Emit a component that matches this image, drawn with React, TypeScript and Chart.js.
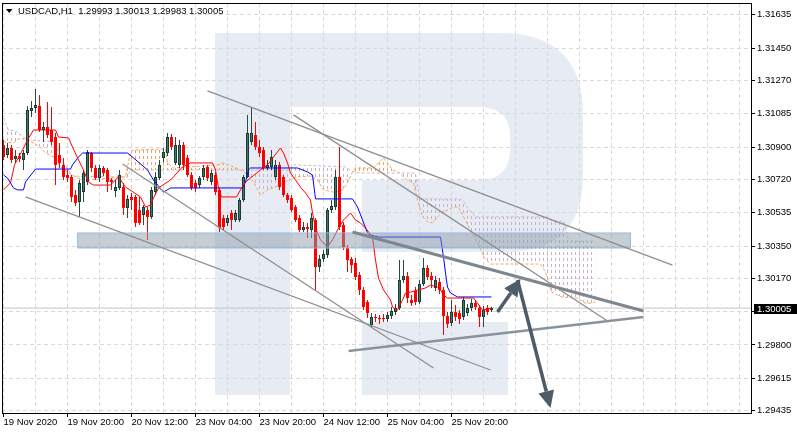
import React, { useEffect, useRef } from 'react';
import { Chart, registerables } from 'chart.js';

Chart.register(...registerables);

const FONT_FAMILY = '"Liberation Sans", Arial, sans-serif';
const SYMBOL = 'USDCAD,H1';

// time axis: one bar per hour, a label every 16 bars, a grid line every 8 bars
const timeLabels = ['19 Nov 2020', '19 Nov 20:00', '20 Nov 12:00', '23 Nov 04:00', '23 Nov 20:00', '24 Nov 12:00', '25 Nov 04:00', '25 Nov 20:00'];
const timeLabelStep = 16;
const gridStep = 8;
const gridLast = 184;

const priceTicks = [1.31635, 1.3145, 1.3127, 1.31085, 1.309, 1.3072, 1.30535, 1.3035, 1.3017, 1.29985, 1.298, 1.29615, 1.29435];

const X_MIN = -0.375;
const X_MAX = 186.875;
const Y_MIN = 1.29422;
const Y_MAX = 1.31701;

const opens = [
  1.30912, 1.30856, 1.30895, 1.30834, 1.30851, 1.30828, 1.30867, 1.31101, 1.31118, 1.31129,
  1.30995, 1.31012, 1.30995, 1.30956, 1.30856, 1.30801, 1.30745, 1.30734, 1.30634, 1.30595,
  1.30650, 1.30706, 1.30867, 1.30784, 1.30728, 1.30784, 1.30773, 1.30717, 1.30656, 1.30673,
  1.30678, 1.30562, 1.30623, 1.30623, 1.30550, 1.30523, 1.30550, 1.30512, 1.30650, 1.30728,
  1.30840, 1.30867, 1.30956, 1.30812, 1.30801, 1.30912, 1.30840, 1.30745, 1.30701, 1.30689,
  1.30734, 1.30790, 1.30706, 1.30745, 1.30662, 1.30506, 1.30478, 1.30534, 1.30495, 1.30495,
  1.30606, 1.30734, 1.30929, 1.30967, 1.30901, 1.30884, 1.30784, 1.30790, 1.30734, 1.30801,
  1.30734, 1.30634, 1.30617, 1.30567, 1.30506, 1.30439, 1.30456, 1.30439, 1.30495, 1.30233,
  1.30278, 1.30300, 1.30550, 1.30567, 1.30734, 1.30467, 1.30339, 1.30278, 1.30256, 1.30189,
  1.30106, 1.30039, 1.29911, 1.29956, 1.29950, 1.29950, 1.29944, 1.29961, 1.29983, 1.30006,
  1.30161, 1.30183, 1.30050, 1.30100, 1.30039, 1.30139, 1.30228, 1.30183, 1.30117, 1.30150,
  1.30106, 1.29961, 1.29922, 1.29983, 1.29978, 1.29956, 1.29978, 1.30006, 1.30033, 1.30006,
  1.29956, 1.30006, 1.29993,
];
const highs = [
  1.30940, 1.30923, 1.30912, 1.30884, 1.30867, 1.30884, 1.31129, 1.31156, 1.31223, 1.31190,
  1.31040, 1.31151, 1.31123, 1.30979, 1.30923, 1.30840, 1.30773, 1.30745, 1.30662, 1.30717,
  1.30773, 1.30884, 1.30873, 1.30801, 1.30801, 1.30795, 1.30784, 1.30728, 1.30717, 1.30773,
  1.30701, 1.30634, 1.30645, 1.30634, 1.30623, 1.30578, 1.30567, 1.30678, 1.30762, 1.30828,
  1.30895, 1.30979, 1.30973, 1.30956, 1.30940, 1.30929, 1.30856, 1.30762, 1.30717, 1.30739,
  1.30801, 1.30801, 1.30773, 1.30762, 1.30673, 1.30523, 1.30523, 1.30550, 1.30550, 1.30617,
  1.30745, 1.31079, 1.31123, 1.31040, 1.30940, 1.30901, 1.30828, 1.30884, 1.30828, 1.30817,
  1.30745, 1.30645, 1.30634, 1.30578, 1.30523, 1.30484, 1.30478, 1.30534, 1.30506, 1.30300,
  1.30328, 1.30562, 1.30606, 1.30773, 1.30901, 1.30484, 1.30356, 1.30289, 1.30283, 1.30206,
  1.30122, 1.30050, 1.29978, 1.29972, 1.29967, 1.29972, 1.29983, 1.30011, 1.30028, 1.30272,
  1.30272, 1.30206, 1.30078, 1.30122, 1.30161, 1.30283, 1.30244, 1.30206, 1.30183, 1.30172,
  1.30122, 1.29983, 1.30050, 1.30022, 1.29994, 1.30067, 1.30028, 1.30056, 1.30050, 1.30022,
  1.30017, 1.30022, 1.30013,
];
const lows = [
  1.30828, 1.30840, 1.30812, 1.30812, 1.30817, 1.30773, 1.30856, 1.31067, 1.31090, 1.30984,
  1.30929, 1.30951, 1.30912, 1.30689, 1.30784, 1.30717, 1.30706, 1.30595, 1.30573, 1.30512,
  1.30595, 1.30689, 1.30762, 1.30717, 1.30706, 1.30739, 1.30650, 1.30662, 1.30623, 1.30662,
  1.30523, 1.30506, 1.30550, 1.30456, 1.30467, 1.30467, 1.30384, 1.30500, 1.30634, 1.30717,
  1.30817, 1.30851, 1.30884, 1.30801, 1.30784, 1.30773, 1.30734, 1.30662, 1.30650, 1.30673,
  1.30717, 1.30712, 1.30689, 1.30634, 1.30428, 1.30439, 1.30462, 1.30439, 1.30484, 1.30484,
  1.30595, 1.30728, 1.30912, 1.30884, 1.30845, 1.30773, 1.30773, 1.30773, 1.30717, 1.30662,
  1.30623, 1.30589, 1.30539, 1.30484, 1.30428, 1.30428, 1.30395, 1.30395, 1.30106, 1.30206,
  1.30261, 1.30283, 1.30534, 1.30550, 1.30439, 1.30328, 1.30206, 1.30200, 1.30161, 1.30078,
  1.29994, 1.29950, 1.29900, 1.29928, 1.29917, 1.29928, 1.29928, 1.29944, 1.29967, 1.29994,
  1.30145, 1.30033, 1.30017, 1.30022, 1.30028, 1.30128, 1.30161, 1.30117, 1.30100, 1.30083,
  1.29855, 1.29894, 1.29906, 1.29933, 1.29917, 1.29939, 1.29961, 1.29989, 1.29994, 1.29900,
  1.29900, 1.29967, 1.29983,
];
const closes = [
  1.30845, 1.30895, 1.30828, 1.30851, 1.30834, 1.30867, 1.31106, 1.31118, 1.31134, 1.30995,
  1.31012, 1.30967, 1.30929, 1.30801, 1.30812, 1.30734, 1.30728, 1.30623, 1.30589, 1.30701,
  1.30756, 1.30873, 1.30784, 1.30728, 1.30784, 1.30756, 1.30706, 1.30706, 1.30678, 1.30745,
  1.30562, 1.30612, 1.30606, 1.30478, 1.30478, 1.30567, 1.30512, 1.30662, 1.30734, 1.30801,
  1.30873, 1.30956, 1.30901, 1.30912, 1.30912, 1.30801, 1.30745, 1.30673, 1.30673, 1.30728,
  1.30784, 1.30728, 1.30756, 1.30650, 1.30450, 1.30456, 1.30506, 1.30495, 1.30534, 1.30606,
  1.30734, 1.30979, 1.30979, 1.30901, 1.30867, 1.30784, 1.30801, 1.30845, 1.30801, 1.30678,
  1.30634, 1.30606, 1.30550, 1.30495, 1.30439, 1.30456, 1.30445, 1.30506, 1.30233, 1.30278,
  1.30306, 1.30550, 1.30573, 1.30734, 1.30456, 1.30345, 1.30272, 1.30244, 1.30178, 1.30106,
  1.30011, 1.29978, 1.29956, 1.29950, 1.29944, 1.29944, 1.29967, 1.29989, 1.30006, 1.30161,
  1.30183, 1.30061, 1.30033, 1.30039, 1.30139, 1.30228, 1.30178, 1.30161, 1.30161, 1.30106,
  1.29961, 1.29917, 1.29983, 1.29956, 1.29944, 1.30050, 1.30006, 1.30033, 1.30011, 1.29956,
  1.29994, 1.29983, 1.30005,
];

// Ichimoku lines: [bar, price]
const tenkanSen = [
  [0, 1.30662], [1.75, 1.30701], [2.75, 1.30801], [4.75, 1.30884], [6, 1.3094], [7.5, 1.30995], [13, 1.30995], [13.75, 1.30956],
  [16.25, 1.30951], [17.25, 1.30901], [18.5, 1.3084], [19.75, 1.30784], [21.25, 1.30706], [22.5, 1.30689], [26.75, 1.30689],
  [28.75, 1.30734], [30.5, 1.30678], [34.25, 1.30623], [35.5, 1.30567], [36.75, 1.30578], [37.5, 1.30617], [38.75, 1.30673],
  [41.75, 1.30717], [44.75, 1.3079], [46.75, 1.30812], [52.25, 1.30812], [53, 1.30773], [53.75, 1.30673], [54.5, 1.30623],
  [58.25, 1.30623], [59.25, 1.30662], [60.5, 1.30706], [61.75, 1.30728], [64.25, 1.30773], [66, 1.30801], [67.5, 1.30845],
  [69.25, 1.30895], [70, 1.30867], [71, 1.30812], [71.75, 1.30756], [73, 1.30717], [74.25, 1.30678], [75.5, 1.30645],
  [76.75, 1.30606], [77.25, 1.30534], [78, 1.3045], [79.25, 1.30384], [81, 1.30345], [82.25, 1.30384], [83.5, 1.30439],
  [85, 1.30495], [86.75, 1.30534], [88, 1.30495], [89.25, 1.30478], [90.5, 1.3045], [92.25, 1.304], [93, 1.30272],
  [93.75, 1.30172], [95, 1.30106], [96.75, 1.3005], [97.25, 1.30011], [98.5, 1.29994], [99.75, 1.3005], [100.5, 1.30089],
  [101.75, 1.30094], [105.5, 1.30117], [106.75, 1.30133], [108.5, 1.30122], [109.25, 1.30106], [110, 1.30078], [111, 1.30061],
  [117.5, 1.30061], [118.5, 1.30033], [119.75, 1.29994], [121, 1.3], [122, 1.30006],
];
const kijunSen = [
  [0, 1.30745], [1, 1.30728], [2.5, 1.30673], [3.5, 1.30662], [5, 1.30662], [5.5, 1.30706], [8, 1.30778], [16.75, 1.30778],
  [17.25, 1.30801], [18.75, 1.30845], [19.75, 1.30867], [31, 1.30867], [32.5, 1.3084], [36, 1.30773], [37.5, 1.30717],
  [40, 1.3065], [41.75, 1.30673], [59.75, 1.30673], [60.5, 1.30706], [61.25, 1.30773], [61.75, 1.30784], [73.5, 1.30784],
  [76, 1.30762], [77.25, 1.30745], [78, 1.30612], [87.25, 1.30612], [88.5, 1.30567], [91, 1.30423], [91.75, 1.30411],
  [93.75, 1.304], [109.25, 1.304], [110, 1.30289], [110.5, 1.302], [111, 1.30122], [111.75, 1.30089], [113.5, 1.30067],
  [122, 1.30067],
];
const senkouA = [
  [0, 1.30929], [2.5, 1.30923], [4.25, 1.30951], [7.5, 1.30923], [9.25, 1.30901], [10.5, 1.30867], [13, 1.3084], [14.25, 1.3079],
  [16, 1.30762], [18.5, 1.30728], [21, 1.30717], [26.75, 1.30728], [30.5, 1.30734], [31.75, 1.30873], [32.5, 1.30884],
  [40.5, 1.3089], [41, 1.30812], [42.5, 1.30784], [53.5, 1.30801], [54.75, 1.30812], [56.25, 1.30801], [57.5, 1.3079],
  [59.25, 1.30773], [61, 1.30745], [62.5, 1.30706], [64.25, 1.30634], [66, 1.30662], [68, 1.30678], [70, 1.30701],
  [73, 1.30734], [76.75, 1.30739], [78.5, 1.30717], [80, 1.30662], [82.5, 1.3065], [84.75, 1.30662], [86, 1.30701],
  [87.25, 1.30762], [88, 1.30784], [92.5, 1.30784], [95, 1.3084], [96, 1.30812], [97.25, 1.30773], [98.75, 1.30762],
  [100, 1.30734], [101, 1.30717], [102.5, 1.30701], [103.5, 1.30606], [104.75, 1.30512], [106, 1.30484], [107.25, 1.30478],
  [108.5, 1.30512], [109.75, 1.30539], [111, 1.3055], [112.5, 1.30567], [113.75, 1.30567], [114.75, 1.30523],
  [116.75, 1.30439], [118.75, 1.30356], [120.25, 1.30283], [121.75, 1.3025], [134.25, 1.3025], [135.5, 1.30206],
  [137, 1.30094], [139.5, 1.30067], [143.5, 1.30061], [145.75, 1.30028], [148, 1.30039],
];
const senkouB = [
  [0, 1.31062], [1.25, 1.30995], [3, 1.3099], [6, 1.3094], [13, 1.30929], [14.25, 1.3084], [17.25, 1.30739], [31, 1.30734],
  [31.75, 1.30773], [71.75, 1.30773], [72.5, 1.30801], [85.5, 1.3079], [87, 1.30767], [89, 1.30756], [103, 1.30756],
  [104, 1.30612], [114, 1.30612], [115, 1.306], [116, 1.30562], [117, 1.30539], [118, 1.30512], [136, 1.30512],
  [137, 1.30489], [140, 1.30489], [140.5, 1.3045], [141, 1.304], [142, 1.30378], [148, 1.30378],
];

// drawn analysis objects: [bar, price]
const trendA = [[51, 1.31212], [167.25, 1.30244]];
const trendB = [[72.5, 1.31079], [151, 1.29933]];
const trendC = [[29.75, 1.30806], [107.5, 1.29672]];
const trendD = [[5.5, 1.30623], [121.75, 1.29661]];
const supportLine = [[86.25, 1.29766], [160, 1.29956]];
const resistLine = [[87.25, 1.30428], [160, 1.29989]];
const zoneBars = [18.5, 156.75];
const zonePrices = [1.30339, 1.30423];
const arrowUp = [[123.5, 1.29983], [129.25, 1.30167]];
const arrowDown = [[128.5, 1.30161], [136.75, 1.2945]];

const pts = (a: number[][]) => a.map(([x, y]) => ({ x, y }));
const fmt = (v: number) => v.toFixed(5);

function drawWatermark(ctx: CanvasRenderingContext2D) {
  ctx.save();
  ctx.fillStyle = '#e7ecf4';
  ctx.beginPath();
  ctx.moveTo(215, 33);
  ctx.lineTo(500, 33);
  ctx.quadraticCurveTo(583, 33, 583, 115);
  ctx.lineTo(583, 175);
  ctx.quadraticCurveTo(583, 252, 505, 252);
  ctx.lineTo(362, 252);
  ctx.lineTo(362, 180);
  ctx.lineTo(478, 180);
  ctx.quadraticCurveTo(510, 180, 510, 150);
  ctx.lineTo(510, 137);
  ctx.quadraticCurveTo(510, 107, 478, 107);
  ctx.lineTo(290, 107);
  ctx.lineTo(290, 395);
  ctx.lineTo(215, 395);
  ctx.closePath();
  ctx.fill();
  ctx.fillRect(362, 322, 146, 73);
  ctx.restore();
}

function drawArrow(ctx: CanvasRenderingContext2D, x1: number, y1: number, x2: number, y2: number) {
  const color = '#4e5c6a';
  const headLen = 17;
  const headW = 8;
  const ang = Math.atan2(y2 - y1, x2 - x1);
  const bx = x2 - headLen * Math.cos(ang);
  const by = y2 - headLen * Math.sin(ang);
  ctx.save();
  ctx.strokeStyle = color;
  ctx.lineWidth = 3.5;
  ctx.beginPath();
  ctx.moveTo(x1, y1);
  ctx.lineTo(bx, by);
  ctx.stroke();
  ctx.fillStyle = color;
  ctx.beginPath();
  ctx.moveTo(x2, y2);
  ctx.lineTo(bx + headW * Math.sin(ang), by - headW * Math.cos(ang));
  ctx.lineTo(bx - headW * Math.sin(ang), by + headW * Math.cos(ang));
  ctx.closePath();
  ctx.fill();
  ctx.restore();
}

export default function App() {
  const ref = useRef<HTMLCanvasElement>(null);

  useEffect(() => {
    const canvas = ref.current!;
    const c2d = canvas.getContext('2d')!;
    const hatch = (color: string) => {
      const c = document.createElement('canvas');
      c.width = 4;
      c.height = 6;
      const g = c.getContext('2d')!;
      g.fillStyle = color;
      g.fillRect(3, 0, 1, 3);
      return c2d.createPattern(c, 'repeat')!;
    };

    const bullBodies: any[] = [];
    const bearBodies: any[] = [];
    const bullWicks: any[] = [];
    const bearWicks: any[] = [];
    opens.forEach((o, i) => {
      const c = closes[i];
      const body = { x: i, y: [Math.min(o, c), Math.max(o, c)] };
      const wick = { x: i, y: [lows[i], highs[i]] };
      if (c >= o) {
        bullBodies.push(body);
        bullWicks.push(wick);
      } else {
        bearBodies.push(body);
        bearWicks.push(wick);
      }
    });

    const lineDs = (label: string, data: number[][], color: string, width: number, order: number, extra: any = {}) => ({
      type: 'line',
      label,
      data: pts(data),
      borderColor: color,
      borderWidth: width,
      pointRadius: 0,
      pointHitRadius: 0,
      tension: 0,
      fill: false,
      order,
      ...extra,
    });

    const datasets: any[] = [];
    datasets.push(lineDs('trendA', trendA, '#8e8e8e', 1.3, 0));
    datasets.push(lineDs('trendB', trendB, '#8e8e8e', 1.3, 0));
    datasets.push(lineDs('trendC', trendC, '#8e8e8e', 1.3, 0));
    datasets.push(lineDs('trendD', trendD, '#8e8e8e', 1.3, 0));
    datasets.push(lineDs('support', supportLine, '#8a939a', 2.5, 0));
    datasets.push(lineDs('resistance', resistLine, '#7e878f', 3, 0));
    const zoneBaseIndex = datasets.length + 1;
    datasets.push(
      lineDs(
        'zone',
        [[zoneBars[0], zonePrices[0]], [zoneBars[0], zonePrices[1]], [zoneBars[1], zonePrices[1]], [zoneBars[1], zonePrices[0]]],
        'rgba(150,185,230,0.9)',
        1,
        1,
        { fill: zoneBaseIndex, backgroundColor: 'rgba(140,155,172,0.5)' }
      )
    );
    datasets.push(lineDs('zoneBase', [[zoneBars[0], zonePrices[0]], [zoneBars[1], zonePrices[0]]], 'rgba(150,185,230,0.9)', 1, 1));
    datasets.push(lineDs('Tenkan-sen', tenkanSen, '#ff0000', 1, 2));
    datasets.push(lineDs('Kijun-sen', kijunSen, '#0000ff', 1, 2));

    const barCommon = { type: 'bar', grouped: false, borderSkipped: false, inflateAmount: 0 };
    datasets.push({ ...barCommon, label: 'bull', data: bullBodies, backgroundColor: '#3b7b67', borderColor: '#1c3a31', borderWidth: 1, barThickness: 3, minBarLength: 1, order: 3 });
    datasets.push({ ...barCommon, label: 'bear', data: bearBodies, backgroundColor: '#ff0000', borderWidth: 0, barThickness: 3, minBarLength: 1, order: 3 });
    datasets.push({ ...barCommon, label: 'bullWick', data: bullWicks, backgroundColor: '#2a4a41', borderWidth: 0, barThickness: 1, order: 4 });
    datasets.push({ ...barCommon, label: 'bearWick', data: bearWicks, backgroundColor: '#ff0000', borderWidth: 0, barThickness: 1, order: 4 });

    const spanBIndex = datasets.length + 1;
    datasets.push(
      lineDs('Senkou Span A', senkouA, '#f4a460', 1, 5, {
        borderDash: [3, 2],
        fill: { target: spanBIndex, above: hatch('#f0a060'), below: hatch('#c8b0c8') },
      })
    );
    datasets.push(lineDs('Senkou Span B', senkouB, '#d2b8d2', 1, 5, { borderDash: [3, 2] }));
    const lastClose = closes[closes.length - 1];
    datasets.push(lineDs('bid', [[X_MIN, lastClose], [X_MAX, lastClose]], '#c4c4c4', 1, 6));

    const xTicks: number[] = [];
    for (let v = 0; v <= gridLast; v += gridStep) xTicks.push(v);
    const isLabelTick = (v: number) => v % timeLabelStep === 0 && v / timeLabelStep < timeLabels.length;

    const decor = {
      id: 'decor',
      beforeDraw(chart: any) {
        drawWatermark(chart.ctx);
      },
      afterDatasetsDraw(chart: any) {
        const xs = chart.scales.x;
        const ys = chart.scales.y;
        const ctx = chart.ctx;
        [arrowUp, arrowDown].forEach((a) => {
          drawArrow(ctx, xs.getPixelForValue(a[0][0]), ys.getPixelForValue(a[0][1]), xs.getPixelForValue(a[1][0]), ys.getPixelForValue(a[1][1]));
        });
      },
      afterDraw(chart: any) {
        const ctx = chart.ctx;
        const { left, top, right, bottom } = chart.chartArea;
        ctx.save();
        ctx.strokeStyle = '#000';
        ctx.lineWidth = 1;
        ctx.strokeRect(left + 0.5, top + 0.5, right - left - 0.0, bottom - top);
        // current price label
        const y = chart.scales.y.getPixelForValue(lastClose);
        ctx.fillStyle = '#000';
        ctx.fillRect(right + 3, Math.round(y) - 4, chart.width - right - 3, 10);
        ctx.fillStyle = '#fff';
        ctx.font = '9.5px ' + FONT_FAMILY;
        ctx.textBaseline = 'middle';
        ctx.textAlign = 'left';
        ctx.fillText(fmt(lastClose), right + 6, Math.round(y) + 1);
        // title
        const n = opens.length - 1;
        ctx.fillStyle = '#000';
        ctx.beginPath();
        ctx.moveTo(6, 9);
        ctx.lineTo(12.5, 9);
        ctx.lineTo(9.25, 13);
        ctx.closePath();
        ctx.fill();
        ctx.textBaseline = 'alphabetic';
        ctx.fillText(`${SYMBOL}  ${fmt(opens[n])} ${fmt(highs[n])} ${fmt(lows[n])} ${fmt(closes[n])}`, 18, 14);
        ctx.restore();
      },
    };

    const chart = new Chart(canvas, {
      type: 'line',
      data: { datasets },
      options: {
        animation: false,
        responsive: true,
        maintainAspectRatio: false,
        events: [],
        layout: { padding: { left: 2, top: 3, right: 0, bottom: 0 } },
        plugins: { legend: { display: false }, tooltip: { enabled: false }, title: { display: false } },
        scales: {
          x: {
            type: 'linear',
            min: X_MIN,
            max: X_MAX,
            offset: false,
            afterBuildTicks: (s: any) => {
              s.ticks = xTicks.map((v) => ({ value: v }));
            },
            afterFit: (s: any) => {
              s.height = 22;
              s.paddingLeft = 0;
              s.paddingRight = 0;
            },
            ticks: {
              autoSkip: false,
              maxRotation: 0,
              minRotation: 0,
              align: 'start',
              padding: 0,
              color: '#000',
              font: { family: FONT_FAMILY, size: 9.5 },
              callback: (v: any) => {
                const n = Number(v);
                return isLabelTick(n) ? timeLabels[n / timeLabelStep] : '';
              },
            },
            grid: {
              offset: false,
              color: '#d9d9d9',
              lineWidth: 1,
              drawTicks: true,
              tickLength: 4,
              tickWidth: 1,
              tickColor: (c: any) => (c.tick && isLabelTick(c.tick.value) ? '#000' : 'rgba(0,0,0,0)'),
            },
            border: { display: false, dash: [4, 3] },
          },
          y: {
            type: 'linear',
            position: 'right',
            min: Y_MIN,
            max: Y_MAX,
            afterBuildTicks: (s: any) => {
              s.ticks = priceTicks.map((v) => ({ value: v }));
            },
            afterFit: (s: any) => {
              s.width = 46;
              s.paddingTop = 0;
              s.paddingBottom = 0;
            },
            ticks: {
              autoSkip: false,
              padding: 2,
              color: '#000',
              font: { family: FONT_FAMILY, size: 9.5 },
              callback: (v: any) => fmt(Number(v)),
            },
            grid: { color: '#d9d9d9', lineWidth: 1, drawTicks: true, tickLength: 4, tickColor: '#000' },
            border: { display: false, dash: [4, 3] },
          },
        },
      } as any,
      plugins: [decor],
    } as any);

    return () => chart.destroy();
  }, []);

  return (
    <div style={{ position: 'fixed', left: 0, top: 0, width: 797, height: 435, background: '#fff' }}>
      <canvas ref={ref} />
    </div>
  );
}
